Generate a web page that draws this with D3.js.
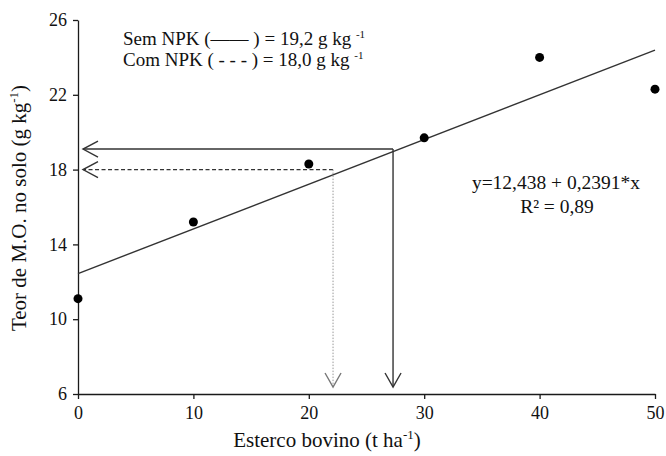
<!DOCTYPE html>
<html>
<head>
<meta charset="utf-8">
<script src="https://cdn.jsdelivr.net/npm/d3@7"></script>
<style>
  body { margin: 0; background: #fff; }
  svg text { font-family: "Liberation Serif", "Times New Roman", serif; fill: #111; }
  .axis path, .axis line { stroke: #1a1a1a; stroke-width: 1.3; }
</style>
</head>
<body>
<div id="chart"></div>
<script>
// data
const doses = [0, 10, 20, 30, 40, 50];
const teorMO = [11.1, 15.2, 18.3, 19.7, 24.0, 22.3];
const xTicks = [0, 10, 20, 30, 40, 50];
const yTicks = [6, 10, 14, 18, 22, 26];
const fit = [12.438, 0.2391];          // intercept, slope
const semNPK = [27.3, 19.1];           // dose, teor (solid arrows)
const comNPK = [22.1, 18.0];           // dose, teor (dashed arrows)

const width = 666, height = 456;
const margin = {top: 20, right: 11, bottom: 62, left: 78};
const serif = '"Liberation Serif", "Times New Roman", serif';

const svg = d3.select("#chart").append("svg")
  .attr("width", width)
  .attr("height", height);

const x = d3.scaleLinear().domain([0, 50]).range([margin.left, width - margin.right]);
const y = d3.scaleLinear().domain([6, 26]).range([height - margin.bottom, margin.top]);

// axes
svg.append("g")
  .attr("class", "axis")
  .attr("transform", "translate(0," + y(6) + ")")
  .call(d3.axisBottom(x).tickValues(xTicks).tickSize(5).tickSizeOuter(0).tickPadding(7))
  .call(g => g.attr("font-family", serif).attr("font-size", 18));

svg.append("g")
  .attr("class", "axis")
  .attr("transform", "translate(" + x(0) + ",0)")
  .call(d3.axisLeft(y).tickValues(yTicks).tickSize(5).tickSizeOuter(0).tickPadding(6))
  .call(g => g.attr("font-family", serif).attr("font-size", 18));

// regression line
const line = d3.line().x(d => x(d)).y(d => y(fit[0] + fit[1] * d));
svg.append("path")
  .datum([0, 50])
  .attr("d", line)
  .attr("fill", "none")
  .attr("stroke", "#333")
  .attr("stroke-width", 1.4);

// arrow helpers
function arrowHead(px, py, dir, color) {
  // open "V" head, dir: "left" or "down"
  const p = dir === "left"
    ? [[px + 15, py - 8], [px, py], [px + 15, py + 8]]
    : [[px - 8, py - 14], [px, py], [px + 8, py - 14]];
  svg.append("path")
    .attr("d", d3.line()(p))
    .attr("fill", "none")
    .attr("stroke", color)
    .attr("stroke-width", 1.4);
}

const gapX = 5, gapY = 7;

// Sem NPK - solid
svg.append("line")
  .attr("x1", x(semNPK[0])).attr("y1", y(semNPK[1]))
  .attr("x2", x(0) + gapX).attr("y2", y(semNPK[1]))
  .attr("stroke", "#333").attr("stroke-width", 1.4);
arrowHead(x(0) + gapX, y(semNPK[1]), "left", "#333");
svg.append("line")
  .attr("x1", x(semNPK[0])).attr("y1", y(semNPK[1]))
  .attr("x2", x(semNPK[0])).attr("y2", y(6) - gapY)
  .attr("stroke", "#333").attr("stroke-width", 1.4);
arrowHead(x(semNPK[0]), y(6) - gapY, "down", "#333");

// Com NPK - dashed
svg.append("line")
  .attr("x1", x(comNPK[0])).attr("y1", y(comNPK[1]))
  .attr("x2", x(0) + gapX).attr("y2", y(comNPK[1]))
  .attr("stroke", "#333").attr("stroke-width", 1.4)
  .attr("stroke-dasharray", "4,2.5");
arrowHead(x(0) + gapX, y(comNPK[1]), "left", "#333");
svg.append("line")
  .attr("x1", x(comNPK[0])).attr("y1", y(comNPK[1]))
  .attr("x2", x(comNPK[0])).attr("y2", y(6) - gapY)
  .attr("stroke", "#999").attr("stroke-width", 1)
  .attr("stroke-dasharray", "1.5,1.5");
arrowHead(x(comNPK[0]), y(6) - gapY, "down", "#777");

// points
svg.selectAll("circle.pt")
  .data(doses)
  .join("circle")
  .attr("class", "pt")
  .attr("cx", d => x(d))
  .attr("cy", (d, i) => y(teorMO[i]))
  .attr("r", 4.5)
  .attr("fill", "#000");

// legend text
const leg = svg.append("g").style("font-size", "19px");
const l1 = leg.append("text").attr("x", 123).attr("y", 45);
l1.append("tspan").text("Sem NPK  (\u2014\u2014 ) = 19,2 g kg ");
l1.append("tspan").attr("dy", -7).style("font-size", "11px").text("-1");
const l2 = leg.append("text").attr("x", 123).attr("y", 66);
l2.append("tspan").text("Com NPK ( - - - ) = 18,0 g kg ");
l2.append("tspan").attr("dy", -7).style("font-size", "11px").text("-1");

// equation
svg.append("text")
  .attr("x", 556).attr("y", 189)
  .attr("text-anchor", "middle")
  .style("font-size", "19.5px")
  .text("y=12,438 + 0,2391*x");
svg.append("text")
  .attr("x", 557).attr("y", 213)
  .attr("text-anchor", "middle")
  .style("font-size", "19.5px")
  .text("R\u00b2 = 0,89");

// axis titles
const xt = svg.append("text")
  .attr("x", 327).attr("y", 447)
  .attr("text-anchor", "middle")
  .style("font-size", "21px");
xt.append("tspan").text("Esterco bovino (t ha");
xt.append("tspan").attr("dy", -8).style("font-size", "13px").text("-1");
xt.append("tspan").attr("dy", 8).text(")");

const yt = svg.append("text")
  .attr("transform", "translate(26," + 208 + ") rotate(-90)")
  .attr("text-anchor", "middle")
  .style("font-size", "21px");
yt.append("tspan").text("Teor de M.O. no solo (g kg");
yt.append("tspan").attr("dy", -8).style("font-size", "13px").text("-1");
yt.append("tspan").attr("dy", 8).text(")");
</script>
</body>
</html>
